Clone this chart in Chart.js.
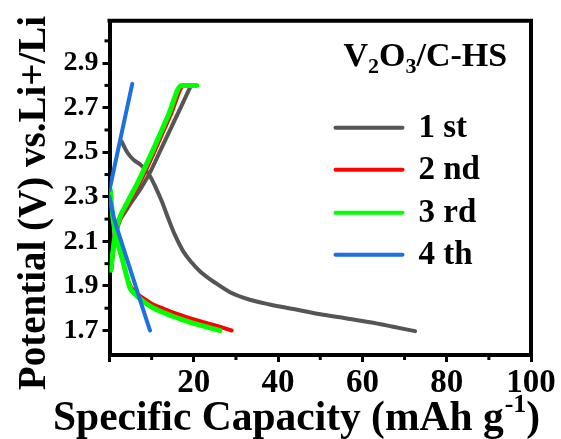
<!DOCTYPE html>
<html><head><meta charset="utf-8">
<script src="https://cdn.jsdelivr.net/npm/chart.js@4/dist/chart.umd.min.js"></script>
<style>html,body{margin:0;padding:0;background:#fff;}canvas{display:block;}</style>
</head><body>
<canvas id="c" width="561" height="439"></canvas>
<script>
// ---- tick values ----
const xTicks = [0, 20, 40, 60, 80, 100];
const xMinor = [10, 30, 50, 70, 90];
const yTicks = [1.7, 1.9, 2.1, 2.3, 2.5, 2.7, 2.9];
const yMinor = [1.8, 2.0, 2.2, 2.4, 2.6, 2.8, 3.0];

// ---- series ----
const seriesNames = ['1 st', '2 nd', '3 rd', '4 th'];
const seriesColors = ['#555555', '#ff0000', '#00ff00', '#1e6fdf'];

// cycle 1
const c1DisX = [2.9, 4.2, 5.6, 7.6, 9.4, 11, 12.4, 14, 15.5, 17.5, 19.5, 21.5, 25.4, 28.6, 33.3, 38, 44, 50, 56, 61.8, 67, 72.5];
const c1DisY = [2.548, 2.50, 2.468, 2.44, 2.40, 2.34, 2.28, 2.20, 2.13, 2.055, 2.005, 1.965, 1.91, 1.872, 1.838, 1.817, 1.795, 1.773, 1.755, 1.737, 1.718, 1.697];
const c1ChX = [0.7, 1.3, 2.5, 5, 7.5, 9.5, 12, 15, 17, 19.1];
const c1ChY = [2.03, 2.16, 2.20, 2.27, 2.34, 2.405, 2.505, 2.625, 2.705, 2.79];
// cycle 2
const c2DisX = [0, 0.5, 1.0, 1.7, 2.9, 4.0, 4.9, 6, 7.2, 8.8, 10.5, 12.5, 14.5, 16.7, 19, 21.5, 24, 26.5, 29];
const c2DisY = [2.32, 2.25, 2.18, 2.11, 2.03, 1.95, 1.90, 1.875, 1.855, 1.835, 1.815, 1.80, 1.785, 1.77, 1.755, 1.742, 1.728, 1.715, 1.70];
const c2ChX = [0.4, 1.0, 1.9, 2.8, 4.5, 7.5, 10.7, 14.5, 17.7, 19.6];
const c2ChY = [1.97, 2.07, 2.16, 2.21, 2.27, 2.375, 2.505, 2.668, 2.80, 2.80];
// cycle 3
const c3DisX = [0.2, 0.5, 1.0, 1.7, 2.9, 4.0, 4.9, 6, 7.2, 8.8, 10.5, 12.5, 14.5, 16.7, 19, 21.5, 24, 26.2];
const c3DisY = [2.33, 2.26, 2.18, 2.11, 2.03, 1.95, 1.89, 1.865, 1.843, 1.82, 1.80, 1.783, 1.768, 1.752, 1.738, 1.724, 1.711, 1.70];
const c3ChX = [0.3, 0.9, 1.7, 2.5, 4.1, 7.0, 10.2, 14.0, 17.1, 20.7];
const c3ChY = [1.97, 2.07, 2.16, 2.21, 2.27, 2.375, 2.505, 2.668, 2.80, 2.80];
// cycle 4
const c4DisX = [0, 1.0, 2.5, 5.0, 7.2, 9.6];
const c4DisY = [2.30, 2.21, 2.117, 1.97, 1.84, 1.70];
const c4ChX = [0, 2.7, 5.4];
const c4ChY = [2.33, 2.57, 2.807];

const pts = (xs, ys) => xs.map((x, i) => ({x: x, y: ys[i]}));
const segs = [
  [0, c1DisX, c1DisY], [0, c1ChX, c1ChY],
  [1, c2DisX, c2DisY], [1, c2ChX, c2ChY],
  [2, c3DisX, c3DisY], [2, c3ChX, c3ChY],
  [3, c4DisX, c4DisY], [3, c4ChX, c4ChY]
];
const widths = [4, 4, 5, 4];
const datasets = segs.map(([s, xs, ys]) => ({
  label: seriesNames[s],
  data: pts(xs, ys),
  borderColor: seriesColors[s],
  backgroundColor: seriesColors[s],
  borderWidth: widths[s],
  showLine: true,
  pointRadius: 0,
  cubicInterpolationMode: 'monotone',
  fill: false,
  borderCapStyle: 'round',
  borderJoinStyle: 'round',
  order: 4 - s
}));

const SERIF = '"Liberation Serif", "Times New Roman", serif';

const deco = {
  id: 'deco',
  afterDraw(chart) {
    const {ctx, chartArea: a, scales: {x, y}} = chart;
    ctx.save();
    ctx.strokeStyle = '#000';
    ctx.lineWidth = 4;
    ctx.lineCap = 'butt';
    ctx.beginPath();
    ctx.moveTo(a.left - 2, a.top);
    ctx.lineTo(a.right, a.top);
    ctx.lineTo(a.right, a.bottom + 2);
    ctx.stroke();
    ctx.lineWidth = 3;
    xMinor.forEach(v => {
      const px = x.getPixelForValue(v);
      ctx.beginPath(); ctx.moveTo(px, a.bottom); ctx.lineTo(px, a.bottom + 5); ctx.stroke();
    });
    yMinor.forEach(v => {
      const py = y.getPixelForValue(v);
      ctx.beginPath(); ctx.moveTo(a.left, py); ctx.lineTo(a.left - 5, py); ctx.stroke();
    });

    // legend
    const lx0 = a.left + 226, lx1 = a.left + 293, tx = a.left + 309;
    const ly = [a.top + 107, a.top + 149, a.top + 192, a.top + 234];
    ctx.font = 'bold 33px ' + SERIF;
    ctx.textBaseline = 'middle';
    ctx.textAlign = 'left';
    ctx.fillStyle = '#000';
    seriesNames.forEach((n, i) => {
      ctx.strokeStyle = seriesColors[i];
      ctx.lineWidth = 4;
      ctx.lineCap = 'round';
      ctx.beginPath(); ctx.moveTo(lx0, ly[i]); ctx.lineTo(lx1, ly[i]); ctx.stroke();
      ctx.fillText(n, tx, ly[i] + 1);
    });

    // sample label V2O3/C-HS
    ctx.textBaseline = 'alphabetic';
    let cx = a.left + 234;
    const by = a.top + 45;
    const parts = [['V', 0], ['2', 1], ['O', 0], ['3', 1], ['/C-HS', 0]];
    parts.forEach(([t, sub]) => {
      ctx.font = sub ? 'bold 22px ' + SERIF : 'bold 34px ' + SERIF;
      ctx.fillText(t, cx, sub ? by + 7 : by);
      cx += ctx.measureText(t).width;
    });

    // x title
    let xx = 53;
    const xb = 430;
    ctx.font = 'bold 41.5px ' + SERIF;
    ctx.fillText('Specific Capacity (mAh g', xx, xb);
    xx += ctx.measureText('Specific Capacity (mAh g').width;
    ctx.font = 'bold 26px ' + SERIF;
    ctx.fillText('-1', xx + 1, xb - 18);
    xx += ctx.measureText('-1').width + 1;
    ctx.font = 'bold 41.5px ' + SERIF;
    ctx.fillText(')', xx, xb);

    // y title
    ctx.translate(45, 203);
    ctx.rotate(-Math.PI / 2);
    ctx.textAlign = 'center';
    ctx.font = 'bold 39px ' + SERIF;
    ctx.fillText('Potential (V) vs.Li+/Li', 0, 0);
    ctx.restore();
  }
};

new Chart(document.getElementById('c'), {
  type: 'scatter',
  data: {datasets: datasets},
  options: {
    responsive: false,
    animation: false,
    devicePixelRatio: 1,
    layout: {padding: {top: 15, right: 30, left: 0, bottom: 0}},
    plugins: {legend: {display: false}, tooltip: {enabled: false}, title: {display: false}},
    scales: {
      x: {
        type: 'linear', min: 0, max: 100,
        afterBuildTicks: s => { s.ticks = xTicks.map(v => ({value: v})); },
        afterFit: s => { s.height = 84; },
        ticks: {
          autoSkip: false, maxRotation: 0, minRotation: 0, padding: 2, color: '#000',
          font: {family: SERIF, size: 33, weight: 'bold'},
          callback: v => (v === 0 ? '' : String(v))
        },
        grid: {drawOnChartArea: false, drawTicks: true, tickLength: 7, tickWidth: 3, tickColor: '#000'},
        border: {display: true, color: '#000', width: 4}
      },
      y: {
        type: 'linear', min: 1.59, max: 3.09,
        afterBuildTicks: s => { s.ticks = yTicks.map(v => ({value: v})); },
        afterFit: s => { s.width = 109.5; },
        ticks: {
          autoSkip: false, padding: 4, color: '#000',
          font: {family: SERIF, size: 28, weight: 'bold'},
          callback: v => Number(v).toFixed(1)
        },
        grid: {drawOnChartArea: false, drawTicks: true, tickLength: 7, tickWidth: 3, tickColor: '#000'},
        border: {display: true, color: '#000', width: 4}
      }
    }
  },
  plugins: [deco]
});
</script>
</body></html>
